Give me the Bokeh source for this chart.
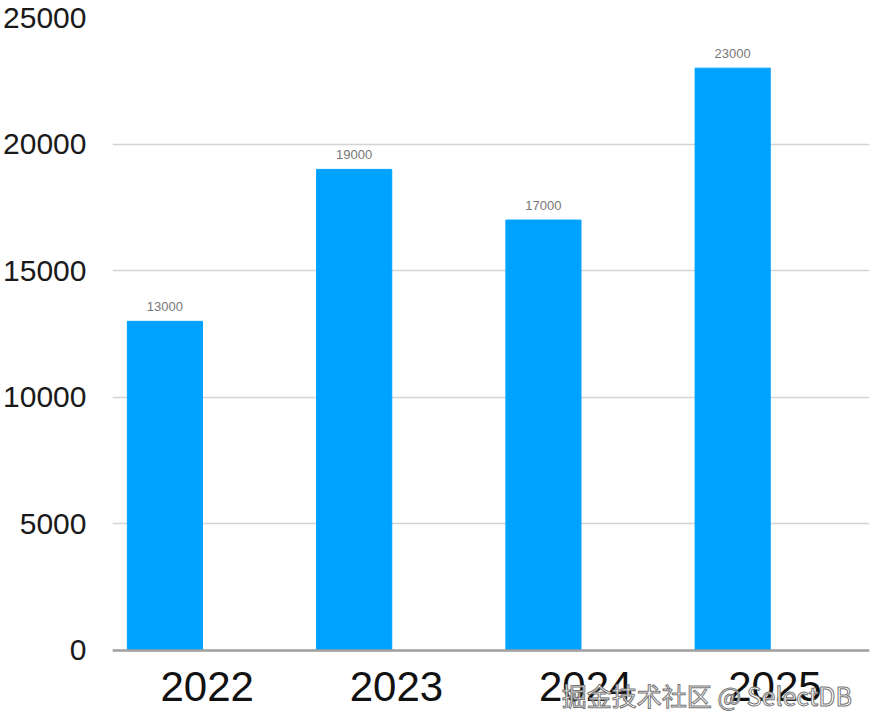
from bokeh.plotting import figure
from bokeh.models import ColumnDataSource, FactorRange, Range1d, FixedTicker, Label, Span
from bokeh.transform import dodge
from bokeh.core.properties import value
from bokeh.embed import file_html
from bokeh.resources import INLINE

years = ["2022", "2023", "2024", "2025"]
values = [13000, 19000, 17000, 23000]
value_labels = ["13000", "19000", "17000", "23000"]
y_ticks = [0, 5000, 10000, 15000, 20000, 25000]

src = ColumnDataSource(dict(year=years, val=values, lab=value_labels,
                            ylab=[-869] * len(years)))

p = figure(width=870, height=712, x_range=FactorRange(*years, range_padding=0),
           y_range=Range1d(-2449, 25000), output_backend="svg", toolbar_location=None,
           x_axis_location=None,
           min_border_left=103, min_border_right=1, min_border_top=17, min_border_bottom=0)
p.outline_line_color = None
p.background_fill_color = "white"
p.border_fill_color = "white"

# grid and axis line
p.xgrid.grid_line_color = None
p.ygrid.ticker = FixedTicker(ticks=y_ticks)
p.ygrid.grid_line_color = "#d4d4d4"
p.ygrid.grid_line_width = 1.5

bar_color = "#00A2FF"
p.vbar(x=dodge("year", -0.223, range=p.x_range), top="val", bottom=0, width=0.397, source=src,
       fill_color=bar_color, line_color=bar_color, line_width=1)
p.add_layout(Span(location=0, dimension="width", line_color="#a0a0a0", line_width=2.5))
p.text(x=dodge("year", -0.223, range=p.x_range), y="val", text="lab", source=src,
       y_offset=-10, text_align="center", text_baseline="bottom",
       text_font=value("Liberation Sans"), text_font_size="13px", text_color="#777777")

# category labels
p.text(x="year", y="ylab", text="year", source=src, text_align="center", text_baseline="top",
       text_font=value("Liberation Sans"), text_font_size="42px", text_color="#111111")

# y axis
p.yaxis.ticker = FixedTicker(ticks=y_ticks)
p.yaxis.axis_line_color = None
p.yaxis.major_tick_line_color = None
p.yaxis.minor_tick_line_color = None
p.yaxis.major_label_standoff = 20
p.yaxis.major_label_text_font = "Liberation Sans"
p.yaxis.major_label_text_font_size = "30px"
p.yaxis.major_label_text_color = "#1a1a1a"

wm = Label(x=2.374, y=-1777, text="掘金技术社区 @ SelectDB",
           text_font="Noto Sans CJK SC", text_font_size="25px", text_color="white",
           text_outline_color="#777777", text_baseline="alphabetic")
p.add_layout(wm)

open("out.html", "w").write(file_html(p, INLINE))
